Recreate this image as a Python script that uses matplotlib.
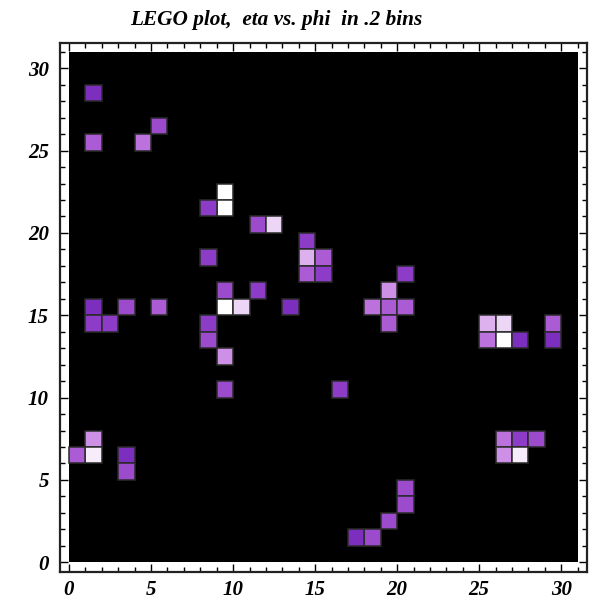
import numpy as np
import matplotlib
matplotlib.use("Agg")
import matplotlib.pyplot as plt
from matplotlib.colors import LinearSegmentedColormap, Normalize
from matplotlib.patches import Rectangle

# Cell data: (phi bin, eta bin, level)
cell_x = [1, 5, 1, 4, 9, 9, 8, 11, 12, 8, 9, 11, 1, 3, 5, 9, 10, 13, 1, 2, 8, 8, 9, 9,
          1, 1, 0, 3, 3, 14, 14, 15, 14, 15, 20, 19, 18, 19, 20, 19, 25, 26, 29, 25, 26,
          27, 29, 16, 26, 27, 28, 26, 27, 20, 20, 19, 18, 17]
cell_y = [28, 26, 25, 25, 22, 21, 21, 20, 20, 18, 16, 16, 15, 15, 15, 15, 15, 15, 14, 14,
          14, 13, 12, 10, 7, 6, 6, 6, 5, 19, 18, 18, 17, 17, 17, 16, 15, 15, 15, 14, 14,
          14, 14, 13, 13, 13, 13, 10, 7, 7, 7, 6, 6, 4, 3, 2, 1, 1]
cell_v = [1, 3, 4, 5, 10, 10, 2, 3, 8, 2, 3, 2, 1, 3, 4, 10, 8, 1, 2, 2, 2, 3, 6, 3,
          6, 9, 4, 1, 3, 2, 7, 4, 4, 2, 2, 6, 5, 4, 4, 4, 7, 8, 4, 5, 10, 1, 1, 2, 5,
          2, 3, 6, 9, 3, 3, 3, 3, 1]

nbins = 31
ticks_major = [0, 5, 10, 15, 20, 25, 30]
title = "LEGO plot,  eta vs. phi  in .2 bins"

cmap = LinearSegmentedColormap.from_list(
    "lego", ["#7c2ebe", "#9a48cc", "#b466d8", "#d49cea", "#f0dcf6", "#ffffff"])
norm = Normalize(vmin=1, vmax=10)

fig = plt.figure(figsize=(5.97, 6.02), dpi=100)
ax = fig.add_axes([60 / 597, (602 - 571.7) / 602, (586.7 - 60) / 597, (571.7 - 42.7) / 602])

ax.add_patch(Rectangle((0, 0), nbins, nbins, facecolor="black", edgecolor="none", zorder=0))
ax.bar(cell_x, np.ones(len(cell_x)), bottom=cell_y, width=1.0, align="edge",
       color=cmap(norm(np.array(cell_v))), edgecolor="#2a2a2a", linewidth=1.1, zorder=1)

ax.set_xlim(-0.55, 31.55)
ax.set_ylim(-0.57, 31.55)

serif = ["Liberation Serif", "DejaVu Serif"]
ax.set_xticks(ticks_major)
ax.set_yticks(ticks_major)
ax.set_xticks(np.arange(0, 32), minor=True)
ax.set_yticks(np.arange(0, 32), minor=True)
ax.set_xticklabels([str(t) for t in ticks_major], family=serif, style="italic",
                   weight="bold", fontsize=15)
ax.set_yticklabels([str(t) for t in ticks_major], family=serif, style="italic",
                   weight="bold", fontsize=15)
ax.tick_params(which="both", direction="in", top=True, right=True, width=1.0, color="black")
ax.tick_params(which="major", length=5.5, pad=6)
ax.tick_params(which="minor", length=3.5)
ax.tick_params(axis="y", pad=8)
for s in ax.spines.values():
    s.set_linewidth(1.6)
    s.set_color("#222222")

fig.text(276 / 597, 1 - 20 / 602, title, ha="center", va="center",
         family=serif, style="italic", weight="bold", fontsize=15.3)

fig.savefig("out.png", dpi=100)
